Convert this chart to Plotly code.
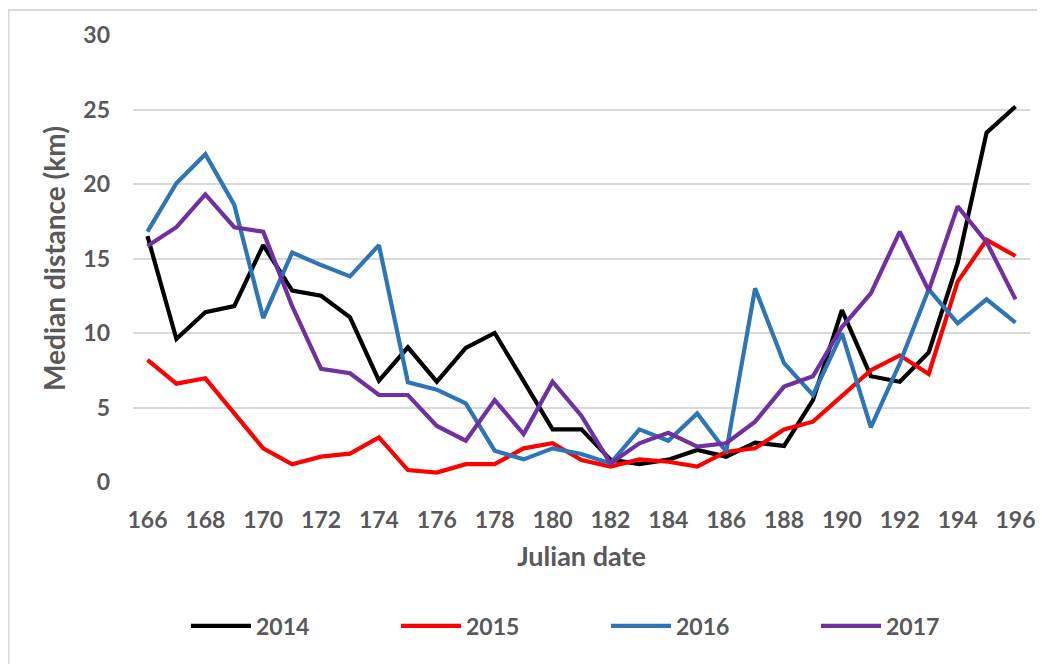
import plotly.graph_objects as go

days = list(range(166, 197))

y2014 = [16.5, 9.6, 11.4, 11.8, 15.9, 12.85, 12.5, 11.05, 6.8, 9.04,
         6.73, 9.0, 10.0, 6.75, 3.53, 3.53, 1.5, 1.2, 1.5, 2.15,
         1.7, 2.64, 2.42, 5.5, 11.54, 7.1, 6.73, 8.7, 14.7, 23.45, 25.2]
y2015 = [8.2, 6.6, 6.96, 4.6, 2.26, 1.19, 1.7, 1.9, 3.0, 0.8,
         0.63, 1.2, 1.2, 2.26, 2.6, 1.48, 1.03, 1.52, 1.36, 1.03,
         2.03, 2.26, 3.53, 4.05, 5.73, 7.5, 8.5, 7.25, 13.45, 16.25, 15.17]
y2016 = [16.8, 20.05, 22.0, 18.6, 11.0, 15.4, 14.56, 13.8, 15.9, 6.7,
         6.2, 5.28, 2.1, 1.52, 2.26, 1.88, 1.25, 3.53, 2.77, 4.6,
         2.03, 13.0, 7.97, 5.84, 9.98, 3.67, 7.97, 12.93, 10.65, 12.26, 10.7]
y2017 = [15.84, 17.1, 19.3, 17.1, 16.8, 11.8, 7.6, 7.3, 5.84, 5.84,
         3.76, 2.77, 5.5, 3.22, 6.73, 4.43, 1.25, 2.6, 3.3, 2.37,
         2.6, 4.05, 6.4, 7.1, 10.4, 12.66, 16.8, 12.84, 18.5, 16.1, 12.26]

series = [("2014", y2014, "#000000"), ("2015", y2015, "#FF0000"),
          ("2016", y2016, "#2E75B6"), ("2017", y2017, "#7030A0")]

x_ticks = list(range(166, 197, 2))
y_ticks = [0, 5, 10, 15, 20, 25, 30]

FONT = "Lato"
GREY = "#595959"

ML, MT, PW, PH = 125, 27, 897, 447

fig = go.Figure()
for name, vals, col in series:
    fig.add_trace(go.Scatter(x=days, y=vals, name=name, mode="lines",
                             line=dict(color=col, width=4.2)))

fig.update_layout(
    width=1045, height=664,
    margin=dict(l=ML, r=1045 - ML - PW, t=MT, b=664 - MT - PH),
    paper_bgcolor="white", plot_bgcolor="white",
    font=dict(family=FONT, color=GREY, size=22),
    showlegend=True,
    legend=dict(orientation="h", xref="container", yref="container",
                x=178/1045, y=1 - 618/664, xanchor="left", yanchor="middle",
                entrywidth=135, entrywidthmode="pixels", itemwidth=60,
                font=dict(family=FONT, size=23, color=GREY, weight="bold"),
                bgcolor="rgba(0,0,0,0)"),
    xaxis=dict(range=[165.5, 196.5], tickmode="array", tickvals=x_ticks,
               ticktext=[str(t) for t in x_ticks], showgrid=False,
               zeroline=False, showline=False, ticks="", automargin=False,
               ticklabelstandoff=22,
               tickfont=dict(family=FONT, size=23, color=GREY, weight="bold"),
               title=dict(text="Julian date", standoff=15,
                          font=dict(family=FONT, size=27, color=GREY, weight="bold"))),
    yaxis=dict(range=[0, 30], tickmode="array", tickvals=y_ticks,
               showgrid=True, gridcolor="#D9D9D9", gridwidth=2,
               zeroline=False, showline=False, ticks="", automargin=False,
               ticklabelstandoff=22,
               tickfont=dict(family=FONT, size=23, color=GREY, weight="bold"),
               title=dict(text="Median distance (km)", standoff=9,
                          font=dict(family=FONT, size=28, color=GREY, weight="bold"))),
)

# chart area border (Excel-style), extending past the bottom/right edge
fig.add_shape(type="rect", xref="paper", yref="paper",
              x0=(0.5 - ML) / PW, x1=(1100 - ML) / PW,
              y0=(MT + PH - 720) / PH, y1=(MT + PH - 2) / PH,
              line=dict(color="#D9D9D9", width=2), fillcolor="rgba(0,0,0,0)",
              layer="below")

fig.write_html("out.html")
